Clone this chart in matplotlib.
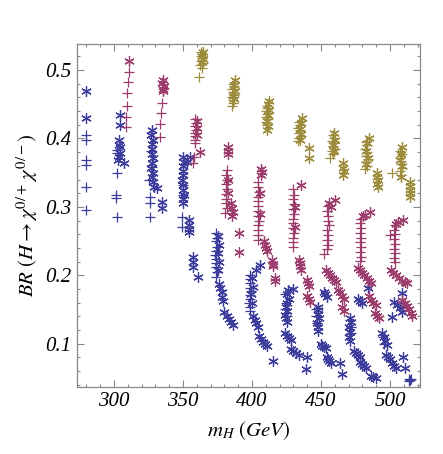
import matplotlib
matplotlib.use('Agg')
import matplotlib.pyplot as plt
from matplotlib.ticker import MultipleLocator

plt.rcParams['mathtext.fontset'] = 'stix'

BLUE = '#3c3c9c'
MAGENTA = '#9c3c6c'
OLIVE = '#9c8c3c'

# (m_H, BR) points
blue_plus = [
    (279.7, 0.405), (279.7, 0.398), (279.7, 0.369), (279.7, 0.361), (279.7, 0.329), (279.7, 0.296),
    (301.8, 0.383), (301.8, 0.379), (302.2, 0.350), (301.5, 0.318), (301.5, 0.313), (302.2, 0.285),
    (325.5, 0.339), (326.0, 0.315), (326.0, 0.306), (326.0, 0.285), (327.0, 0.382), (327.2, 0.358),
    (349.3, 0.285), (349.3, 0.271), (349.8, 0.332), (350.2, 0.318),
    (374.0, 0.262), (374.5, 0.255), (373.7, 0.250), (374.3, 0.242), (374.0, 0.236), (373.5, 0.230),
    (374.2, 0.224), (374.0, 0.218), (373.7, 0.212), (374.4, 0.205), (374.0, 0.198),
    (398.3, 0.200), (398.8, 0.195), (398.5, 0.188), (398.2, 0.182), (398.9, 0.177), (398.4, 0.171),
    (398.6, 0.165), (398.1, 0.160), (398.7, 0.154), (398.3, 0.148),
    (424.0, 0.172), (424.5, 0.160), (424.0, 0.150), (425.0, 0.140),
    (446.0, 0.150), (446.5, 0.140), (447.0, 0.130),
    (471.0, 0.135), (471.5, 0.125), (472.0, 0.115),
    (495.0, 0.110), (495.5, 0.100),
    (513.5, 0.049), (514.5, 0.047), (515.5, 0.049), (514.0, 0.045),
]
blue_star = [
    (280.0, 0.469), (280.0, 0.430),
    (304.3, 0.434), (304.3, 0.420), (303.5, 0.398), (303.5, 0.391), (304.0, 0.388), (304.5, 0.379),
    (303.8, 0.373), (303.0, 0.369), (307.0, 0.364),
    (327.5, 0.412), (327.0, 0.405), (328.0, 0.398), (327.3, 0.392), (327.8, 0.385), (327.2, 0.378),
    (328.0, 0.371), (327.5, 0.364), (327.0, 0.357), (328.2, 0.350), (327.6, 0.343), (328.5, 0.336),
    (329.0, 0.329), (331.0, 0.328), (334.5, 0.307), (334.5, 0.299),
    (350.0, 0.373), (350.5, 0.366), (349.8, 0.360), (350.3, 0.353), (350.0, 0.346), (349.5, 0.339),
    (350.2, 0.332), (349.8, 0.325), (350.4, 0.318), (349.7, 0.312), (350.0, 0.306), (355.0, 0.373),
    (352.5, 0.365), (354.0, 0.281), (354.3, 0.274), (354.0, 0.268), (354.5, 0.263),
    (357.0, 0.227), (357.3, 0.220), (357.0, 0.212), (360.5, 0.198),
    (375.5, 0.258), (375.8, 0.245), (375.3, 0.233), (375.8, 0.220), (375.5, 0.208), (376.0, 0.187),
    (377.0, 0.181), (378.0, 0.175), (378.5, 0.168), (379.0, 0.163), (380.0, 0.146), (381.5, 0.141),
    (383.0, 0.136), (384.5, 0.131), (386.0, 0.127),
    (405.8, 0.215), (403.0, 0.208), (400.0, 0.196), (400.5, 0.183), (399.5, 0.172), (400.0, 0.160),
    (401.0, 0.140), (402.0, 0.135), (403.0, 0.130), (404.5, 0.125), (405.0, 0.111), (406.5, 0.107),
    (408.0, 0.103), (409.5, 0.099), (411.0, 0.096), (415.2, 0.074),
    (429.7, 0.180), (426.0, 0.178), (425.5, 0.172), (426.5, 0.166), (425.0, 0.160), (424.5, 0.154),
    (425.0, 0.148), (424.0, 0.142), (424.5, 0.137), (425.0, 0.132), (424.0, 0.115), (425.5, 0.111),
    (427.0, 0.108), (428.5, 0.106), (428.0, 0.092), (430.0, 0.089), (432.0, 0.086), (434.0, 0.083),
    (439.5, 0.080), (439.0, 0.063),
    (452.0, 0.176), (453.0, 0.172), (454.5, 0.168), (447.8, 0.154), (448.0, 0.149), (447.5, 0.143),
    (448.5, 0.137), (447.0, 0.130), (448.0, 0.124), (447.5, 0.118), (450.0, 0.100), (451.0, 0.097),
    (452.0, 0.095), (453.5, 0.093), (454.0, 0.080), (455.0, 0.077), (456.0, 0.074), (457.0, 0.072),
    (463.8, 0.072), (465.2, 0.055),
    (484.0, 0.181), (477.0, 0.166), (478.5, 0.162), (480.0, 0.160), (471.0, 0.138), (471.5, 0.131),
    (470.5, 0.124), (471.0, 0.117), (470.5, 0.110), (471.0, 0.104), (474.0, 0.090), (475.5, 0.086),
    (477.0, 0.083), (478.5, 0.081), (478.0, 0.073), (479.5, 0.070), (481.0, 0.067), (482.5, 0.064),
    (486.0, 0.053), (488.0, 0.051), (490.0, 0.050),
    (508.7, 0.174), (503.0, 0.161), (505.0, 0.157), (507.0, 0.152), (508.5, 0.147), (501.4, 0.139),
    (494.5, 0.116), (495.5, 0.110), (496.5, 0.104), (497.5, 0.098), (497.0, 0.084), (498.5, 0.081),
    (500.0, 0.078), (501.5, 0.072), (503.0, 0.068), (504.5, 0.065), (509.4, 0.080), (510.9, 0.065),
]

magenta_plus = [
    (310.5, 0.497), (310.1, 0.482), (309.7, 0.466), (309.3, 0.447), (308.9, 0.431), (308.5, 0.417),
    (334.5, 0.452), (334.0, 0.437), (333.5, 0.421), (333.0, 0.402),
    (359.0, 0.428), (359.5, 0.423), (358.8, 0.418), (359.3, 0.413), (358.5, 0.408), (359.0, 0.403),
    (358.7, 0.398), (358.3, 0.393), (357.8, 0.373), (357.5, 0.364),
    (381.5, 0.354), (381.0, 0.347), (381.8, 0.340), (381.2, 0.333), (381.5, 0.326), (380.8, 0.319),
    (381.3, 0.312), (381.0, 0.305), (381.5, 0.298), (380.5, 0.291),
    (404.5, 0.336), (404.0, 0.329), (404.8, 0.322), (404.2, 0.315), (404.5, 0.308), (404.0, 0.301),
    (404.6, 0.294), (404.2, 0.287), (404.8, 0.280), (404.3, 0.273), (404.5, 0.266), (404.0, 0.259),
    (404.5, 0.252),
    (430.0, 0.326), (430.5, 0.318), (429.5, 0.311), (430.2, 0.304), (429.8, 0.297), (430.5, 0.290),
    (429.5, 0.283), (430.0, 0.276), (429.6, 0.269), (430.3, 0.262), (429.8, 0.255), (430.0, 0.248),
    (429.5, 0.241),
    (455.0, 0.301), (454.5, 0.294), (455.3, 0.287), (454.8, 0.280), (455.5, 0.273), (454.3, 0.266),
    (455.0, 0.259), (454.5, 0.252), (455.2, 0.245), (454.6, 0.238), (451.8, 0.231),
    (479.0, 0.283), (478.5, 0.276), (479.3, 0.269), (478.6, 0.262), (479.0, 0.255), (478.2, 0.248),
    (479.2, 0.241), (478.5, 0.234), (478.8, 0.227), (478.3, 0.221),
    (503.5, 0.273), (503.0, 0.266), (503.8, 0.260), (500.0, 0.259), (503.2, 0.253), (503.6, 0.246),
    (503.0, 0.239), (503.5, 0.232), (503.2, 0.225), (503.6, 0.219),
]
magenta_star = [
    (311.0, 0.513),
    (335.5, 0.486), (335.0, 0.481), (336.0, 0.477), (335.3, 0.473), (335.8, 0.470),
    (360.0, 0.425), (359.8, 0.415), (360.2, 0.405), (362.5, 0.380),
    (382.5, 0.387), (382.8, 0.382), (382.3, 0.377), (382.5, 0.340), (382.8, 0.320), (385.0, 0.306),
    (385.5, 0.299), (386.0, 0.292), (385.5, 0.286), (390.5, 0.262), (390.5, 0.234),
    (406.5, 0.356), (407.0, 0.351), (406.8, 0.346), (405.5, 0.320), (405.5, 0.290), (409.0, 0.250),
    (409.5, 0.245), (410.0, 0.240), (410.5, 0.236), (414.5, 0.222), (415.0, 0.217), (415.5, 0.213),
    (416.5, 0.196), (417.0, 0.191),
    (435.5, 0.332), (431.0, 0.300), (431.0, 0.270), (434.0, 0.223), (434.5, 0.218), (435.0, 0.213),
    (435.5, 0.208), (439.5, 0.193), (440.5, 0.189), (441.5, 0.185), (440.0, 0.169), (441.0, 0.165),
    (442.0, 0.161),
    (460.0, 0.310), (456.0, 0.305), (457.0, 0.300), (453.5, 0.208), (455.0, 0.204), (456.5, 0.200),
    (458.0, 0.196), (459.5, 0.193), (461.0, 0.190), (462.0, 0.179), (463.5, 0.175), (465.0, 0.170),
    (466.5, 0.165), (465.5, 0.153), (466.5, 0.148),
    (485.5, 0.293), (482.0, 0.288), (480.5, 0.286), (477.0, 0.211), (478.5, 0.207), (480.0, 0.204),
    (481.5, 0.200), (483.0, 0.196), (484.5, 0.192), (486.0, 0.189), (485.0, 0.169), (486.5, 0.164),
    (488.0, 0.160), (489.5, 0.156), (489.0, 0.145), (490.5, 0.141), (492.0, 0.137),
    (509.4, 0.281), (506.0, 0.278), (504.5, 0.275), (500.5, 0.208), (502.5, 0.204), (504.5, 0.200),
    (506.5, 0.196), (508.5, 0.192), (510.5, 0.190), (512.5, 0.189), (509.0, 0.164), (510.5, 0.160),
    (512.0, 0.155), (513.5, 0.150), (515.0, 0.145), (516.0, 0.140),
]

olive_plus = [
    (363.0, 0.527), (364.0, 0.524), (362.8, 0.520), (363.8, 0.517), (363.2, 0.513), (364.2, 0.510),
    (362.6, 0.507), (363.5, 0.503), (361.7, 0.490),
    (386.0, 0.480), (386.8, 0.476), (385.6, 0.472), (386.4, 0.468), (387.0, 0.464), (385.8, 0.460),
    (386.5, 0.456), (386.0, 0.452), (385.8, 0.447),
    (410.5, 0.448), (411.2, 0.444), (410.0, 0.440), (411.0, 0.436), (410.4, 0.432), (411.4, 0.428),
    (410.2, 0.424), (410.8, 0.420),
    (434.0, 0.424), (435.0, 0.420), (433.5, 0.416), (434.6, 0.412), (433.8, 0.408), (435.2, 0.404),
    (434.2, 0.400), (433.6, 0.396),
    (458.5, 0.405), (459.5, 0.401), (458.0, 0.397), (459.2, 0.393), (458.6, 0.389), (459.8, 0.385),
    (458.3, 0.381), (459.0, 0.377), (456.5, 0.371),
    (482.5, 0.395), (483.5, 0.390), (482.0, 0.385), (483.2, 0.380), (482.6, 0.375), (483.8, 0.370),
    (482.3, 0.365), (483.0, 0.360), (481.8, 0.356),
    (507.5, 0.382), (508.5, 0.377), (507.0, 0.372), (508.2, 0.367), (507.6, 0.362), (508.8, 0.357),
    (507.3, 0.352), (508.0, 0.347), (501.4, 0.350),
]
olive_star = [
    (364.5, 0.526), (363.8, 0.521), (364.8, 0.516), (364.0, 0.512),
    (387.5, 0.485), (386.8, 0.478), (387.5, 0.470), (386.2, 0.462), (387.2, 0.458),
    (412.0, 0.455), (411.5, 0.450), (412.0, 0.442), (411.8, 0.434), (411.0, 0.426), (411.6, 0.418),
    (410.8, 0.413),
    (436.0, 0.430), (435.5, 0.422), (434.8, 0.414), (435.8, 0.406), (434.5, 0.398), (441.3, 0.386),
    (441.3, 0.371),
    (459.5, 0.408), (460.0, 0.398), (458.8, 0.390), (459.6, 0.382), (466.0, 0.364), (466.0, 0.357),
    (466.5, 0.352), (465.8, 0.347),
    (484.8, 0.401), (483.5, 0.393), (482.8, 0.382), (483.8, 0.372), (482.5, 0.362), (490.6, 0.350),
    (490.3, 0.344), (491.0, 0.339), (490.5, 0.333), (491.2, 0.329),
    (508.7, 0.388), (508.0, 0.378), (507.5, 0.368), (508.5, 0.360), (507.8, 0.344), (514.5, 0.336),
    (514.2, 0.330), (514.8, 0.325), (514.3, 0.320), (514.6, 0.315),
]

STAR = (6, 2, 0)


def draw(ax, points, marker, color):
    xs = [p[0] for p in points]
    ys = [p[1] for p in points]
    ax.plot(xs, ys, ls='none', marker=marker, color=color, ms=7.5, mew=0.9)


fig = plt.figure(figsize=(4.43, 4.54), dpi=100)
ax = fig.add_axes([0.174, 0.148, 0.774, 0.755])

for pts, mk, col in [(blue_plus, '+', BLUE), (blue_star, STAR, BLUE),
                     (magenta_plus, '+', MAGENTA), (magenta_star, STAR, MAGENTA),
                     (olive_plus, '+', OLIVE), (olive_star, STAR, OLIVE)]:
    draw(ax, pts, mk, col)

ax.set_xlim(273.2, 521.7)
ax.set_ylim(0.037, 0.538)

ax.xaxis.set_major_locator(MultipleLocator(50))
ax.xaxis.set_minor_locator(MultipleLocator(10))
ax.yaxis.set_major_locator(MultipleLocator(0.1))
ax.yaxis.set_minor_locator(MultipleLocator(0.02))
ax.tick_params(which='both', direction='in', top=True, right=True, color='#888888', width=0.8)
ax.tick_params(which='major', length=5, pad=4)
ax.tick_params(which='minor', length=2.5)
for spine in ax.spines.values():
    spine.set_color('#888888')
    spine.set_linewidth(0.9)

for lab in ax.get_xticklabels() + ax.get_yticklabels():
    lab.set_family('Liberation Serif')
    lab.set_style('italic')
    lab.set_fontsize(15)

ax.set_xlabel(r'$m_H\ (GeV)$', fontsize=15, labelpad=6)
ax.set_ylabel(r'$BR\ (H \rightarrow \chi^{0/+}\,\chi^{0/-})$', fontsize=15, labelpad=4)

fig.savefig('out.png', dpi=100)
